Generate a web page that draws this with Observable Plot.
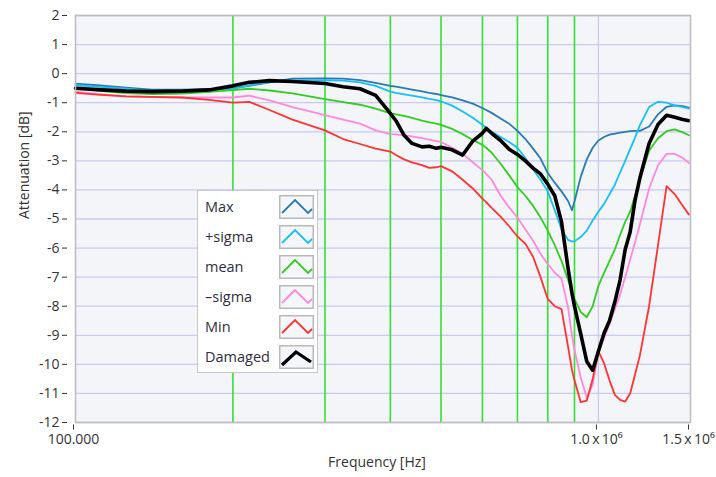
<!DOCTYPE html>
<html><head><meta charset="utf-8">
<script src="https://cdn.jsdelivr.net/npm/d3@7"></script>
<script src="https://cdn.jsdelivr.net/npm/@observablehq/plot@0.6"></script>
<style>
body{margin:0;background:#fff;}
#wrap{position:relative;width:716px;height:477px;font-family:"Open Sans",sans-serif;}
#legend{position:absolute;left:197px;top:190px;width:121px;height:183px;background:#fff;border:1px solid #c8c8c8;box-sizing:border-box;}
.row{position:absolute;left:0;width:119px;height:24px;}
.row span{position:absolute;left:7px;top:0;line-height:24px;font-size:14.5px;color:#2e2e40;white-space:nowrap;}
.row svg{position:absolute;left:81px;top:0;}
</style></head>
<body><div id="wrap"><div id="chart"></div><div id="legend"></div></div>
<script>
// Frequencies in kHz
const freqKHz = [100,110,125,140,160,180,200,215,235,260,300,325,350,375,400,410,425,440,460,475,490,500,525,550,575,600,610,625,650,675,700,725,750,775,800,825,850,875,890,900,925,950,975,1000,1025,1050,1075,1100,1125,1150,1175,1200,1250,1300,1350,1400,1450,1490];

const maxV = [-0.34,-0.40,-0.48,-0.55,-0.55,-0.53,-0.50,-0.42,-0.30,-0.17,-0.16,-0.17,-0.22,-0.32,-0.42,-0.45,-0.50,-0.55,-0.61,-0.66,-0.70,-0.74,-0.82,-0.92,-1.03,-1.18,-1.25,-1.35,-1.54,-1.72,-1.97,-2.25,-2.58,-2.92,-3.42,-3.75,-4.05,-4.38,-4.70,-4.40,-3.55,-2.95,-2.55,-2.30,-2.18,-2.10,-2.06,-2.03,-2.00,-1.98,-1.97,-1.97,-1.82,-1.40,-1.14,-1.09,-1.12,-1.17];

const plusSigmaV = [-0.40,-0.45,-0.52,-0.60,-0.60,-0.56,-0.52,-0.40,-0.28,-0.23,-0.23,-0.24,-0.30,-0.42,-0.62,-0.66,-0.71,-0.76,-0.82,-0.87,-0.91,-0.95,-1.10,-1.30,-1.52,-1.76,-1.86,-2.00,-2.18,-2.35,-2.55,-2.90,-3.30,-3.65,-4.05,-4.70,-5.35,-5.72,-5.77,-5.77,-5.62,-5.40,-5.05,-4.75,-4.48,-4.15,-3.82,-3.40,-3.00,-2.60,-2.20,-1.78,-1.15,-0.97,-1.00,-1.10,-1.15,-1.20];

const meanV = [-0.48,-0.58,-0.67,-0.70,-0.69,-0.63,-0.57,-0.52,-0.58,-0.68,-0.88,-0.98,-1.07,-1.20,-1.37,-1.40,-1.45,-1.52,-1.62,-1.68,-1.72,-1.76,-1.90,-2.08,-2.28,-2.45,-2.55,-2.72,-3.10,-3.50,-3.90,-4.20,-4.55,-4.95,-5.40,-5.90,-6.45,-7.10,-7.50,-7.75,-8.20,-8.38,-8.00,-7.30,-6.85,-6.45,-6.05,-5.55,-5.10,-4.75,-4.20,-3.65,-2.65,-2.22,-1.98,-1.92,-2.02,-2.12];

const minusSigmaV = [-0.62,-0.70,-0.78,-0.81,-0.82,-0.82,-0.82,-0.76,-0.92,-1.15,-1.43,-1.58,-1.72,-1.95,-2.08,-2.09,-2.12,-2.16,-2.22,-2.27,-2.32,-2.35,-2.55,-2.75,-3.05,-3.32,-3.45,-3.65,-4.20,-4.60,-4.95,-5.35,-5.75,-6.20,-6.55,-6.85,-7.05,-8.05,-9.00,-9.50,-10.45,-11.15,-10.70,-9.60,-9.10,-8.60,-8.10,-7.60,-7.00,-6.40,-5.80,-5.20,-3.95,-3.15,-2.76,-2.76,-2.90,-3.08];

const minV = [-0.66,-0.72,-0.78,-0.80,-0.82,-0.90,-1.00,-0.97,-1.25,-1.58,-1.95,-2.25,-2.42,-2.58,-2.68,-2.80,-2.95,-3.05,-3.15,-3.24,-3.22,-3.18,-3.36,-3.65,-3.95,-4.30,-4.42,-4.62,-4.92,-5.25,-5.60,-5.85,-6.30,-7.00,-7.75,-8.00,-8.10,-9.40,-10.19,-10.55,-11.30,-11.25,-10.50,-9.55,-9.96,-10.55,-11.05,-11.22,-11.28,-11.00,-10.35,-9.70,-8.00,-5.90,-3.87,-4.15,-4.55,-4.85];

const damagedV = [-0.50,-0.55,-0.60,-0.62,-0.60,-0.56,-0.42,-0.30,-0.24,-0.27,-0.34,-0.45,-0.52,-0.75,-1.37,-1.62,-2.12,-2.40,-2.52,-2.50,-2.57,-2.53,-2.62,-2.80,-2.32,-2.05,-1.88,-2.05,-2.30,-2.60,-2.78,-3.00,-3.25,-3.45,-3.80,-4.20,-5.10,-6.70,-7.55,-8.00,-8.95,-9.90,-10.20,-9.55,-8.93,-8.50,-7.85,-7.10,-6.05,-5.45,-4.35,-3.60,-2.40,-1.75,-1.43,-1.50,-1.58,-1.62];

const seriesNames = ["Max","+sigma","mean","\u2013sigma","Min","Damaged"];
const seriesValues = [maxV, plusSigmaV, meanV, minusSigmaV, minV, damagedV];
const seriesColors = ["#2a7ab5","#16c0f2","#33cc22","#ff88de","#ff3232","#000000"];
const seriesWidths = [1.8,1.8,1.8,1.8,1.8,3.6];

const cursorKHz = [200,300,400,500,600,700,800,900];
const yTicks = d3.range(-12, 3);
const xTicks = [1e5, 1e6, 1.5e6];
const xTickLabels = ["100.000", "1.0\u2009x\u200910\u2076", "1.5\u2009x\u200910\u2076"];

const lineMarks = seriesNames.map((name, k) => Plot.line(
  freqKHz.map((f, i) => ({f: f * 1000, v: seriesValues[k][i]})),
  {x: "f", y: "v", stroke: seriesColors[k], strokeWidth: seriesWidths[k], strokeLinejoin: "round"}
));

const chart = Plot.plot({
  width: 716, height: 477,
  marginLeft: 75, marginRight: 26, marginTop: 15, marginBottom: 55,
  x: {type: "log", domain: [1e5, 1.5e6]},
  y: {domain: [-12, 2]},
  style: {fontFamily: "Open Sans, sans-serif", fontSize: "14px", color: "#333", background: "transparent"},
  marks: [
    Plot.frame({fill: "#f3f5f9"}),
    Plot.ruleY(yTicks, {stroke: "#cacaf0", strokeWidth: 1.3}),
    Plot.ruleX([1e6], {stroke: "#cacaf0", strokeWidth: 1.3}),
    Plot.ruleX(cursorKHz.map(d => d * 1000), {stroke: "#33e033", strokeWidth: 1.6}),
    ...lineMarks,
    Plot.frame({stroke: "#bdbdbd", strokeWidth: 1.5}),
    Plot.axisY({ticks: yTicks, tickSize: 5, tickPadding: 3, dx: -8, label: null,
      tickFormat: d => d < 0 ? "-" + Math.abs(d) : String(d)}),
    Plot.axisX({ticks: xTicks, tickSize: 5, tickPadding: 4, dy: 2.5, dx: -2, label: null,
      tickFormat: d => xTickLabels[xTicks.indexOf(d)]}),
    Plot.text(["Attenuation [dB]"], {frameAnchor: "left", dx: -51, rotate: -90, fill: "#333"}),
    Plot.text(["Frequency [Hz]"], {frameAnchor: "bottom", dy: 44, dx: -6, fill: "#333"})
  ]
});
document.getElementById("chart").appendChild(chart);

// Legend
const legend = document.getElementById("legend");
seriesNames.forEach((name, k) => {
  const row = document.createElement("div");
  row.className = "row";
  row.style.top = (4 + 30 * k) + "px";
  const pts = k === 5 ? "3,20 17,7 32,17" : "3,18 16,5 29,18 33,14";
  row.innerHTML = `<span>${name}</span><svg width="35" height="24"><rect x="0.75" y="0.75" width="33.5" height="22.5" fill="#f5f6f9" stroke="#b9b9b9" stroke-width="1.5"/><polyline points="${pts}" fill="none" stroke="${seriesColors[k]}" stroke-width="${k===5?3.2:1.8}" stroke-linejoin="miter"/></svg>`;
  legend.appendChild(row);
});
</script></body></html>
